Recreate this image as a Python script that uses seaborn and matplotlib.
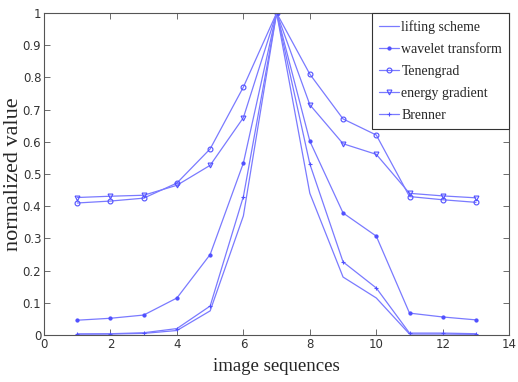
import numpy as np
import pandas as pd
import seaborn as sns
import matplotlib.pyplot as plt

sns.set_style('ticks')

frames = list(range(1, 14))
lifting = [0.003, 0.003, 0.005, 0.014, 0.075, 0.37, 1.0, 0.44, 0.18, 0.115, 0.003, 0.003, 0.002]
wavelet = [0.046, 0.052, 0.062, 0.115, 0.25, 0.534, 1.0, 0.602, 0.379, 0.307, 0.068, 0.056, 0.047]
tenengrad = [0.41, 0.416, 0.425, 0.472, 0.578, 0.77, 1.0, 0.81, 0.671, 0.621, 0.43, 0.42, 0.412]
energy = [0.427, 0.431, 0.434, 0.465, 0.527, 0.675, 1.0, 0.715, 0.594, 0.561, 0.44, 0.432, 0.426]
brenner = [0.003, 0.004, 0.007, 0.02, 0.09, 0.43, 1.0, 0.531, 0.227, 0.146, 0.006, 0.006, 0.004]

names = ['lifting scheme', 'wavelet transform', 'Tenengrad', 'energy gradient', 'Brenner']
series = [lifting, wavelet, tenengrad, energy, brenner]
markers = ['', '.', 'o', 'v', '+']

line_color = '#7a7aff'
mark_color = '#5050ff'

fig, ax = plt.subplots(figsize=(5.18, 3.82), dpi=100)
fig.subplots_adjust(left=0.085, right=0.983, bottom=0.123, top=0.966)

for name, vals, mk in zip(names, series, markers):
    df = pd.DataFrame({'frame': frames, 'value': vals})
    kw = dict(marker=mk, markersize=3.5, markeredgewidth=0.8,
              markerfacecolor='none', markeredgecolor=mark_color) if mk else {}
    if mk == '.':
        kw.update(markerfacecolor=mark_color, markersize=4.5)
    sns.lineplot(data=df, x='frame', y='value', color=line_color,
                 linewidth=0.9, label=name, ax=ax, **kw)

ax.set_xlim(0, 14)
ax.set_ylim(0, 1)
ax.set_xticks(range(0, 15, 2))
ax.set_yticks(np.arange(0, 1.01, 0.1))
ax.set_yticklabels(['0', '0.1', '0.2', '0.3', '0.4', '0.5', '0.6', '0.7', '0.8', '0.9', '1'])
tick_font = ['Liberation Sans Narrow', 'DejaVu Sans']
for lab in ax.get_xticklabels() + ax.get_yticklabels():
    lab.set_family(tick_font)
    lab.set_fontsize(8.5)
ax.tick_params(direction='in', top=True, right=True, length=4, width=0.6,
               colors='#555555', labelcolor='#333333', pad=2)
for sp in ax.spines.values():
    sp.set_visible(True)
    sp.set_color('#555555')
    sp.set_linewidth(0.8)

ax.set_xlabel('image sequences', family='Liberation Serif', fontsize=13.5, labelpad=5)
ax.set_ylabel('normalized value', family='Liberation Serif', fontsize=16)
ax.yaxis.set_label_coords(-0.045, 0.5)

leg = ax.legend(loc='upper right', prop={'family': 'Liberation Serif', 'size': 10},
                fancybox=False, framealpha=1, edgecolor='#333333',
                borderaxespad=0.0, handlelength=1.4, handletextpad=0.2,
                labelspacing=0.65, borderpad=0.5)
leg.get_frame().set_linewidth(0.8)

plt.savefig('out.png', dpi=100)
